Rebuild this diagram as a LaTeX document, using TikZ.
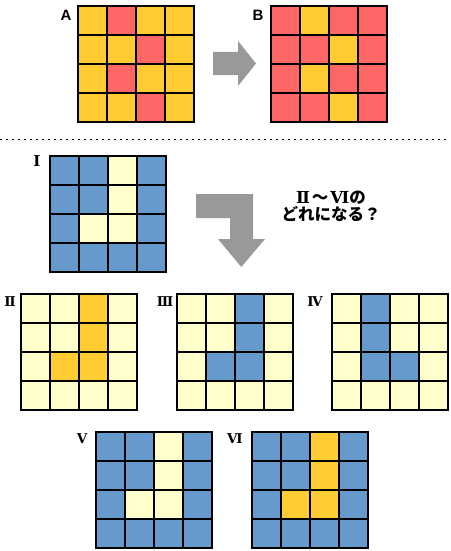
\documentclass[tikz,border=0pt]{standalone}
\usepackage{fontspec}
\setmainfont{Liberation Serif}
\newfontfamily\jpfont{Noto Sans CJK JP}
\newfontfamily\labsans{Liberation Sans}
\newfontfamily\romfont{DejaVu Serif}
\definecolor{cyel}{HTML}{FFCC33}
\definecolor{cred}{HTML}{FF6666}
\definecolor{cblue}{HTML}{6699CC}
\definecolor{cpale}{HTML}{FFFFCC}
\definecolor{cgray}{HTML}{999999}
\newcommand{\cellgrid}[5]{%
  \begin{scope}[shift={(#1,#2)}]
    \fill[#3] (0,0) rectangle (116,116);
    \foreach \c/\r in {#5} {\fill[#4] ({(\c-1)*29},{(\r-1)*29}) rectangle ++(29,29);}
    \foreach \i in {1,2,3} {
      \draw[gridline] ({\i*29},0) -- ({\i*29},116);
      \draw[gridline] (0,{\i*29}) -- (116,{\i*29});
    }
    \draw[gridline] (0,0) rectangle (116,116);
  \end{scope}}
\begin{document}
\begin{tikzpicture}[x=1pt,y=-1pt,
  gridline/.style={black,line width=1.3pt},
  arrowshape/.style={fill=cgray,draw=none},
  sanslabel/.style={font=\labsans\bfseries\fontsize{15}{15}\selectfont,inner sep=0pt},
  romlabel/.style={font=\romfont\bfseries\fontsize{13.5}{13.5}\selectfont,inner sep=0pt},
  question/.style={font=\jpfont\bfseries\fontsize{16.5}{17}\selectfont,align=center,inner sep=0pt}]
\useasboundingbox[fill=white] (0,0) rectangle (450,551);
% top section
\cellgrid{78}{6}{cyel}{cred}{2/1,3/2,2/3,3/4}
\cellgrid{271}{6}{cred}{cyel}{2/1,3/2,2/3,3/4}
\node[sanslabel] (labA) at (66,15) {A};
\node[sanslabel] (labB) at (258,15) {B};
\fill[arrowshape] (213,52) -- (238,52) -- (238,41) -- (256,63.5) -- (238,86) -- (238,75) -- (213,75) -- cycle;
% separator
\coordinate (sepL) at (0,139);
\coordinate (sepR) at (450,139);
\draw[black,line width=1pt,dash pattern=on 1.5pt off 4.5pt] (sepL) -- (sepR);
% question
\cellgrid{50}{156}{cblue}{cpale}{3/1,3/2,2/3,3/3}
\node[romlabel,font=\romfont\bfseries\fontsize{15}{15}\selectfont] (labI) at (37,161) {Ⅰ};
\fill[arrowshape] (196,194) -- (253,194) -- (253,239) -- (265,239) -- (241.3,267) -- (218,239) -- (230,239) -- (230,218) -- (196,218) -- cycle;
\node[question] (q) at (331,206) {{\romfont\bfseries Ⅱ}\kern2pt～\kern2pt{\romfont\bfseries Ⅵ}の\\どれになる？};
% answers
\cellgrid{21}{294}{cpale}{cyel}{3/1,3/2,2/3,3/3}
\cellgrid{177}{294}{cpale}{cblue}{3/1,3/2,2/3,3/3}
\cellgrid{332}{294}{cpale}{cblue}{2/1,2/2,2/3,3/3}
\cellgrid{96}{432}{cblue}{cpale}{3/1,3/2,2/3,3/3}
\cellgrid{252}{432}{cblue}{cyel}{3/1,3/2,2/3,3/3}
\node[romlabel] (labII) at (10,302) {Ⅱ};
\node[romlabel] (labIII) at (165,302) {Ⅲ};
\node[romlabel] (labIV) at (315,302) {Ⅳ};
\node[romlabel] (labV) at (82,439) {Ⅴ};
\node[romlabel] (labVI) at (235,439) {Ⅵ};
\end{tikzpicture}
\end{document}
